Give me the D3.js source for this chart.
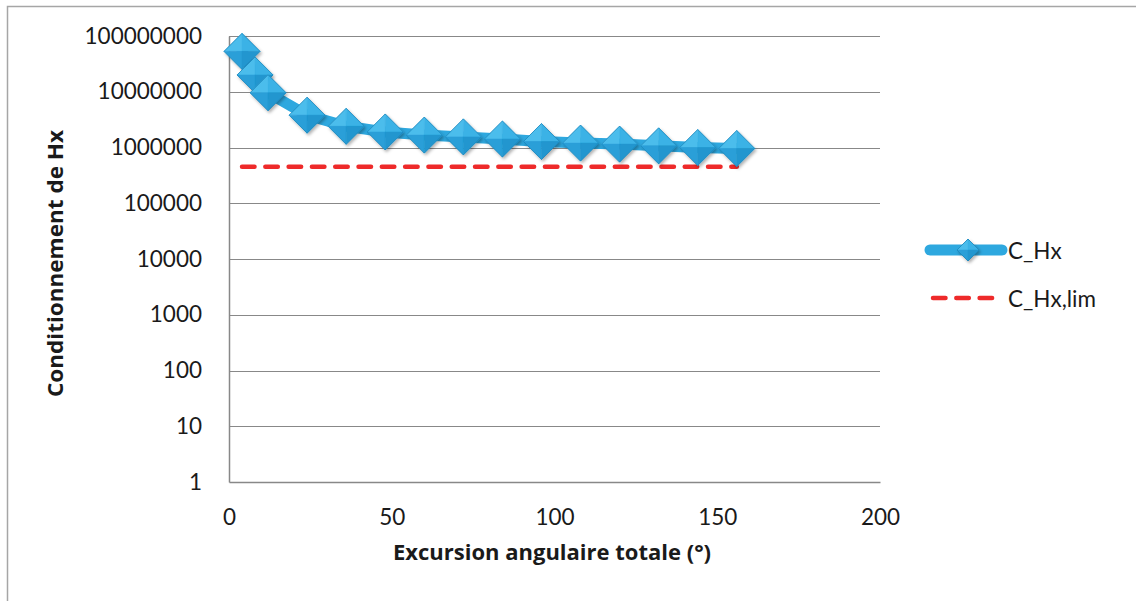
<!DOCTYPE html>
<html><head><meta charset="utf-8">
<script src="https://cdn.jsdelivr.net/npm/d3@7"></script>
<style>body{margin:0;background:#fff}svg{display:block}</style>
</head><body>
<svg id="c" width="1136" height="601"></svg>
<script>
const xVals = [4, 8, 12, 24, 36, 48, 60, 72, 84, 96, 108, 120, 132, 144, 156];
const cHx = [53000000, 20000000, 9600000, 3800000, 2400000, 1900000, 1670000, 1550000, 1420000, 1280000, 1200000, 1150000, 1070000, 1000000, 960000];
const cHxLim = [450000, 450000, 450000, 450000, 450000, 450000, 450000, 450000, 450000, 450000, 450000, 450000, 450000, 450000, 450000];
const xTicks = [0, 50, 100, 150, 200];
const yTicks = [1, 10, 100, 1000, 10000, 100000, 1000000, 10000000, 100000000];
const seriesNames = ["C_Hx", "C_Hx,lim"];

const svg = d3.select("#c");
const x = d3.scaleLinear().domain([0, 200]).range([229, 880]);
const y = d3.scaleLog().domain([1, 1e8]).range([482, 36]);
const font = "Lato, 'Open Sans', sans-serif";
const tfont = "'Open Sans', Lato, sans-serif";

// outer frame
svg.append("rect").attr("x", 7.5).attr("y", 6.5).attr("width", 1140).attr("height", 600)
  .attr("fill", "none").attr("stroke", "#a6a6a6").attr("stroke-width", 1.5);

const defs = svg.append("defs");
const f = defs.append("filter").attr("id", "sh").attr("x", "-50%").attr("y", "-50%").attr("width", "200%").attr("height", "200%");
f.append("feDropShadow").attr("dx", 1.5).attr("dy", 2).attr("stdDeviation", 1.5).attr("flood-color", "#000").attr("flood-opacity", 0.3);

// gridlines
svg.append("g").selectAll("line").data(yTicks.slice(1)).join("line")
  .attr("x1", x(0)).attr("x2", x(200)).attr("y1", d => Math.round(y(d)) + 0.5).attr("y2", d => Math.round(y(d)) + 0.5)
  .attr("stroke", "#888").attr("stroke-width", 1);

// axes
const yAxis = svg.append("g").attr("transform", `translate(${x(0)},0)`)
  .call(d3.axisLeft(y).tickValues(yTicks).tickFormat(d3.format("d")).tickSize(0).tickPadding(27));
const xAxis = svg.append("g").attr("transform", `translate(0,${y(1)})`)
  .call(d3.axisBottom(x).tickValues(xTicks).tickFormat(d3.format("d")).tickSize(0).tickPadding(32));
[yAxis, xAxis].forEach(a => {
  a.select(".domain").attr("stroke", "#888").attr("stroke-width", 1.5);
  a.selectAll("text").attr("font-family", font).attr("font-size", 22.5).attr("fill", "#1a1a1a");
});
xAxis.selectAll("text").attr("dy", "0.5em");

// axis titles
svg.append("text").attr("x", 393).attr("y", 560)
  .attr("textLength", 318).attr("lengthAdjust", "spacingAndGlyphs")
  .attr("font-family", tfont).attr("font-weight", "bold").attr("font-size", 21).attr("fill", "#1a1a1a")
  .text("Excursion angulaire totale (°)");
svg.append("text").attr("transform", "translate(63,397) rotate(-90)")
  .attr("textLength", 267).attr("lengthAdjust", "spacingAndGlyphs")
  .attr("font-family", tfont).attr("font-weight", "bold").attr("font-size", 21).attr("fill", "#1a1a1a")
  .text("Conditionnement de Hx");

// series
const blue = "#2ea8df";
const red = "#ee2a2a";
const line = d3.line().x(d => x(d[0])).y(d => y(d[1]));
svg.append("path").datum(xVals.map((v, i) => [v, cHxLim[i]])).attr("d", line)
  .attr("fill", "none").attr("stroke", red).attr("stroke-width", 4.5).attr("stroke-dasharray", "12.5,10.8").attr("stroke-linecap", "round");
svg.append("path").datum(xVals.map((v, i) => [v, cHx[i]])).attr("d", line)
  .attr("fill", "none").attr("stroke", blue).attr("stroke-width", 11).attr("stroke-linejoin", "round").attr("stroke-linecap", "round");

function diamond(g, r) {
  g.attr("filter", "url(#sh)");
  const facets = [
    [[0, -r], [-r, 0], [0, 0], "#4cbdec"],
    [[0, -r], [r, 0], [0, 0], "#3ab2e6"],
    [[-r, 0], [0, r], [0, 0], "#2a9fd8"],
    [[r, 0], [0, r], [0, 0], "#2196cf"]
  ];
  facets.forEach(fc => g.append("path").attr("d", `M${fc[0]}L${fc[1]}L${fc[2]}Z`).attr("fill", fc[3]).attr("stroke", fc[3]).attr("stroke-width", 0.5));
  g.append("path").attr("d", `M0,${-r}L${-r},0L0,${r}L${r},0Z`).attr("fill", "none").attr("stroke", "#1d86bb").attr("stroke-width", 0.8);
}
svg.append("g").selectAll("g").data(xVals.map((v, i) => [v, cHx[i]])).join("g")
  .attr("transform", d => `translate(${x(d[0])},${y(d[1])})`)
  .each(function() { diamond(d3.select(this), 18); });

// legend
svg.append("line").attr("x1", 930).attr("x2", 1002).attr("y1", 250).attr("y2", 250)
  .attr("stroke", blue).attr("stroke-width", 11).attr("stroke-linecap", "round");
diamond(svg.append("g").attr("transform", "translate(968,250)"), 11);
svg.append("line").attr("x1", 933).attr("x2", 993).attr("y1", 298).attr("y2", 298)
  .attr("stroke", red).attr("stroke-width", 4.5).attr("stroke-dasharray", "12.5,10.8").attr("stroke-linecap", "round");
svg.selectAll(".lg").data(seriesNames).join("text").attr("class", "lg")
  .attr("x", 1008).attr("y", (d, i) => 250 + i * 48).attr("dominant-baseline", "central")
  .attr("font-family", font).attr("font-size", 22.5).attr("fill", "#1a1a1a").text(d => d);
</script>
</body></html>
